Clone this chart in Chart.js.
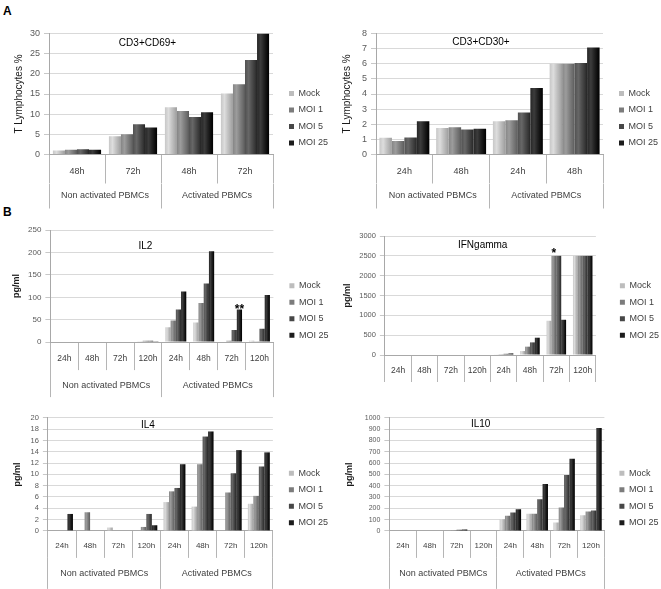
<!DOCTYPE html>
<html>
<head>
<meta charset="utf-8">
<script src="https://cdn.jsdelivr.net/npm/chart.js@4.4.1/dist/chart.umd.min.js"></script>
<style>
html,body{margin:0;padding:0;background:#fff;}
#wrap{position:relative;width:661px;height:589px;overflow:hidden;background:#fff;font-family:"Liberation Sans",Arial,sans-serif;}
#wrap canvas{position:absolute;}
.lbl{position:absolute;font-weight:bold;font-size:12px;line-height:12px;color:#000;}
</style>
</head>
<body>
<div id="wrap">
  <div class="lbl" style="left:3px;top:5px">A</div>
  <div class="lbl" style="left:3px;top:206px">B</div>
</div>
<script>
// ---------- data ----------
const seriesNames = ['Mock', 'MOI 1', 'MOI 5', 'MOI 25'];
const seriesColors = ['#bdbdbd', '#7c7c7c', '#474747', '#1c1c1c'];
const groupLabels = ['Non activated PBMCs', 'Activated PBMCs'];
const times69 = ['48h', '72h', '48h', '72h'];
const times30 = ['24h', '48h', '24h', '48h'];
const timesCyt = ['24h', '48h', '72h', '120h', '24h', '48h', '72h', '120h'];

const cd69Mock = [1.0, 4.5, 11.7, 15.1];
const cd69Moi1 = [1.2, 5.0, 10.8, 17.4];
const cd69Moi5 = [1.3, 7.5, 9.3, 23.4];
const cd69Moi25 = [1.2, 6.7, 10.5, 30.0];

const cd30Mock = [1.1, 1.75, 2.2, 6.0];
const cd30Moi1 = [0.9, 1.8, 2.27, 6.0];
const cd30Moi5 = [1.12, 1.65, 2.78, 6.05];
const cd30Moi25 = [2.2, 1.7, 4.4, 7.07];

const il2Mock = [0, 0, 0, 2, 33, 44, 0, 3];
const il2Moi1 = [0, 0, 0, 3, 48, 87, 3, 2];
const il2Moi5 = [0, 0, 0, 3, 73, 131, 27, 30];
const il2Moi25 = [0, 0, 0, 2, 113, 203, 73, 105];

const ifnMock = [0, 0, 0, 0, 10, 100, 863, 2500];
const ifnMoi1 = [0, 0, 0, 0, 20, 210, 2500, 2500];
const ifnMoi5 = [0, 0, 0, 0, 30, 318, 2500, 2500];
const ifnMoi25 = [0, 0, 0, 0, 40, 436, 888, 2500];

const il4Mock = [0, 0, 0.6, 0, 5.1, 4.3, 0, 4.8];
const il4Moi1 = [0, 3.3, 0, 0.7, 7.0, 11.8, 6.8, 6.2];
const il4Moi5 = [0, 0, 0, 3.0, 7.6, 16.7, 10.2, 11.4];
const il4Moi25 = [3.0, 0, 0, 1.0, 11.8, 17.6, 14.3, 13.9];

const il10Mock = [0, 0, 3, 0, 104, 151, 74, 139];
const il10Moi1 = [0, 0, 5, 0, 133, 151, 207, 172];
const il10Moi5 = [0, 0, 10, 0, 163, 281, 494, 180];
const il10Moi25 = [0, 0, 12, 0, 192, 414, 639, 911];

// ---------- panel layout ----------
const FAMILY = '"Liberation Sans", Arial, sans-serif';
const panels = [
  {title: 'CD3+CD69+', yTitle: 'T Lymphocytes %', yTitleFont: {size: 10}, times: times69, groups: true,
   series: [cd69Mock, cd69Moi1, cd69Moi5, cd69Moi25], yMax: 30, yStep: 5,
   L: 49, T: 33, R: 273, B: 154, H1: 29, H2: 25, c1: 16.7, c2: 12.5, W: 36, lx: 289, ly: 93,
   tx: 147.5, ty: 42.5, tickFs: 9, catFs: 9, catPct: 0.86, stars: []},
  {title: 'CD3+CD30+', yTitle: 'T Lymphocytes %', yTitleFont: {size: 10}, times: times30, groups: true,
   series: [cd30Mock, cd30Moi1, cd30Moi5, cd30Moi25], yMax: 8, yStep: 1,
   L: 376, T: 33, R: 603, B: 154, H1: 29, H2: 25, c1: 16.7, c2: 12.5, W: 35, lx: 619, ly: 93,
   tx: 481, ty: 42, tickFs: 9, catFs: 9, catPct: 0.88, stars: []},
  {title: 'IL2', yTitle: 'pg/ml', yTitleFont: {size: 9, weight: 'bold'}, times: timesCyt, groups: true,
   series: [il2Mock, il2Moi1, il2Moi5, il2Moi25], yMax: 250, yStep: 50,
   L: 50, T: 230, R: 273, B: 342, H1: 28, H2: 27, c1: 16.3, c2: 15.7, W: 39.4, lx: 289, ly: 285.7,
   tx: 145, ty: 246, tickFs: 8, catFs: 8.5, catPct: 0.75, stars: [{ds: 3, idx: 6, text: '**', off: 4}]},
  {title: 'IFNgamma', yTitle: 'pg/ml', yTitleFont: {size: 9, weight: 'bold'}, times: timesCyt, groups: false,
   series: [ifnMock, ifnMoi1, ifnMoi5, ifnMoi25], yMax: 3000, yStep: 500,
   L: 385, T: 236, R: 596, B: 355, H1: 27, H2: 0, c1: 15.7, c2: 0, W: 42.9, lx: 620, ly: 285.7,
   tx: 482.8, ty: 245, tickFs: 7.5, catFs: 8.5, catPct: 0.74, stars: [{ds: 1, idx: 6, text: '*', off: 1}]},
  {title: 'IL4', yTitle: 'pg/ml', yTitleFont: {size: 9, weight: 'bold'}, times: timesCyt, groups: true,
   series: [il4Mock, il4Moi1, il4Moi5, il4Moi25], yMax: 20, yStep: 2,
   L: 48, T: 418, R: 273, B: 531, H1: 27, H2: 31, c1: 14.7, c2: 15.3, W: 35.9, lx: 289, ly: 473.3,
   tx: 148, ty: 425, tickFs: 7.5, catFs: 8, catPct: 0.78, stars: []},
  {title: 'IL10', yTitle: 'pg/ml', yTitleFont: {size: 9, weight: 'bold'}, times: timesCyt, groups: true,
   series: [il10Mock, il10Moi1, il10Moi5, il10Moi25], yMax: 1000, yStep: 100,
   L: 389, T: 418, R: 604, B: 531, H1: 27, H2: 31, c1: 14.7, c2: 15.3, W: 45.4, lx: 619, ly: 473.3,
   tx: 480.3, ty: 424.3, tickFs: 7, catFs: 8, catPct: 0.8, stars: []}
];

Chart.defaults.font.family = FAMILY;

function adjust(hex, d) {
  const n = parseInt(hex.slice(1), 16);
  const c = [(n >> 16) & 255, (n >> 8) & 255, n & 255].map(v => Math.max(0, Math.min(255, Math.round(v + d))));
  return 'rgb(' + c.join(',') + ')';
}

// cylinder-like shading of the bars, computed from each bar element's own geometry
const barShade = {
  id: 'barShade',
  beforeDatasetsDraw(chart) {
    const ctx = chart.ctx;
    chart.data.datasets.forEach((ds, i) => {
      const meta = chart.getDatasetMeta(i);
      meta.data.forEach(el => {
        const w = el.width;
        if (!w || !isFinite(el.x)) return;
        const base = ds.backgroundColor;
        const g = ctx.createLinearGradient(el.x - w / 2, 0, el.x + w / 2, 0);
        g.addColorStop(0, adjust(base, 10));
        g.addColorStop(0.3, adjust(base, 32));
        g.addColorStop(0.55, adjust(base, 8));
        g.addColorStop(0.85, adjust(base, -18));
        g.addColorStop(1, adjust(base, -35));
        el.options = Object.assign({}, el.options, {backgroundColor: g});
      });
    });
  }
};

const panelText = {
  id: 'panelText',
  afterDatasetsDraw(chart, args, opts) {
    const ctx = chart.ctx, a = chart.chartArea;
    ctx.save();
    ctx.fillStyle = '#000';
    ctx.textAlign = 'center';
    ctx.textBaseline = 'middle';
    ctx.font = '10px ' + FAMILY;
    ctx.fillText(opts.title, a.left + opts.dx, a.top + opts.dy);
    ctx.font = 'bold 12px ' + FAMILY;
    ctx.textBaseline = 'alphabetic';
    (opts.stars || []).forEach(s => {
      const el = chart.getDatasetMeta(s.ds).data[s.idx];
      ctx.fillText(s.text, el.x, el.y + s.off);
    });
    ctx.restore();
  }
};

function spacer(axis, position, weight, size) {
  return {
    type: 'linear', axis, position, weight, display: true,
    grid: {display: false, drawTicks: false}, border: {display: false},
    ticks: {display: false}, title: {display: false},
    afterFit: s => { if (axis === 'x') s.height = size; else s.width = size; }
  };
}

const LEG_FS = 9, LEG_PAD = 7.5, LEG_BOX = 5;
const meas = document.createElement('canvas').getContext('2d');
meas.font = LEG_FS + 'px ' + FAMILY;
const legTextW = Math.max(...seriesNames.map(s => meas.measureText(s).width));
const legendW = LEG_PAD + LEG_BOX + LEG_FS / 2 + legTextW + 10;

const wrap = document.getElementById('wrap');
panels.forEach(p => {
  const legendLeft = p.lx - LEG_PAD;
  const G = legendLeft - p.R;
  const Bot = p.B + p.H1 + p.H2;
  const colH = seriesNames.length * (LEG_FS + LEG_PAD);
  const K = 2 * p.ly - LEG_FS - LEG_PAD + colH;
  let St, Sb;
  if (K - Bot <= p.T) { St = p.T - (K - Bot); Sb = 0; } else { St = 0; Sb = K - p.T - Bot; }
  const Tl = p.T - St, Bl = Bot + Sb;
  const padT = 12, padB = 2;
  const cx = p.L - p.W, cy = Tl - padT;
  const needW = legendLeft + legendW - cx;
  const cw = Math.ceil(needW) + 1;
  const padR = cw - needW;
  const ch = Math.ceil(Bl + padB - cy);
  const padBottom = ch - (Bl - cy);

  const cv = document.createElement('canvas');
  cv.width = cw; cv.height = ch;
  cv.style.left = cx + 'px'; cv.style.top = cy + 'px';
  cv.style.width = cw + 'px'; cv.style.height = ch + 'px';
  wrap.appendChild(cv);

  const lh1 = p.catFs * 1.2;
  const scales = {
    x: {
      type: 'category', position: 'bottom', weight: 1, labels: p.times, offset: true,
      grid: {offset: true, drawOnChartArea: false, drawTicks: true, tickLength: p.H1, color: '#b5b5b5', lineWidth: 1},
      border: {display: true, color: '#a8a8a8', width: 1},
      ticks: {autoSkip: false, maxRotation: 0, minRotation: 0, color: '#404040',
              font: {size: p.catFs, family: FAMILY}, padding: p.c1 - p.H1 - lh1 / 2},
      afterFit: s => { s.height = p.H1; }
    },
    y: {
      type: 'linear', position: 'left', min: 0, max: p.yMax,
      grid: {color: '#d9d9d9', drawTicks: true, tickLength: 5, tickColor: '#c8c8c8'},
      border: {display: true, color: '#a8a8a8', width: 1},
      ticks: {stepSize: p.yStep, autoSkip: false, color: '#5a5a5a', padding: 4,
              font: {size: p.tickFs, family: FAMILY}, callback: v => String(v)},
      title: {display: true, text: p.yTitle, color: '#1a1a1a', padding: 0,
              font: Object.assign({family: FAMILY}, p.yTitleFont)},
      afterFit: s => { s.width = p.W; }
    },
    sRight: spacer('y', 'right', 0, G),
    sTop: spacer('x', 'top', 0, St),
    sBot: spacer('x', 'bottom', 3, Sb)
  };
  if (p.groups) {
    const lh2 = 9 * 1.2;
    scales.x2 = {
      type: 'category', axis: 'x', position: 'bottom', weight: 2, labels: groupLabels, offset: true,
      grid: {offset: true, drawOnChartArea: false, drawTicks: true, tickLength: p.H2, color: '#b5b5b5', lineWidth: 1},
      border: {display: false},
      ticks: {autoSkip: false, maxRotation: 0, minRotation: 0, color: '#404040',
              font: {size: 9, family: FAMILY}, padding: p.c2 - p.H2 - lh2 / 2},
      afterFit: s => { s.height = p.H2; }
    };
  }

  new Chart(cv, {
    type: 'bar',
    data: {
      labels: p.times,
      datasets: seriesNames.map((name, i) => ({
        label: name,
        data: p.series[i],
        backgroundColor: seriesColors[i],
        borderWidth: 0,
        xAxisID: 'x', yAxisID: 'y',
        categoryPercentage: p.catPct,
        barPercentage: 1.0
      }))
    },
    options: {
      responsive: false,
      animation: false,
      devicePixelRatio: 1,
      layout: {padding: {left: 0, top: padT, right: padR, bottom: padBottom}},
      scales,
      plugins: {
        legend: {
          position: 'right', align: 'center', maxWidth: 300,
          labels: {boxWidth: LEG_BOX, boxHeight: LEG_BOX, padding: LEG_PAD, color: '#404040',
                   font: {size: LEG_FS, family: FAMILY}}
        },
        tooltip: {enabled: false},
        panelText: {title: p.title, dx: p.tx - p.L, dy: p.ty - p.T, stars: p.stars}
      }
    },
    plugins: [barShade, panelText]
  });
});
</script>
</body>
</html>
